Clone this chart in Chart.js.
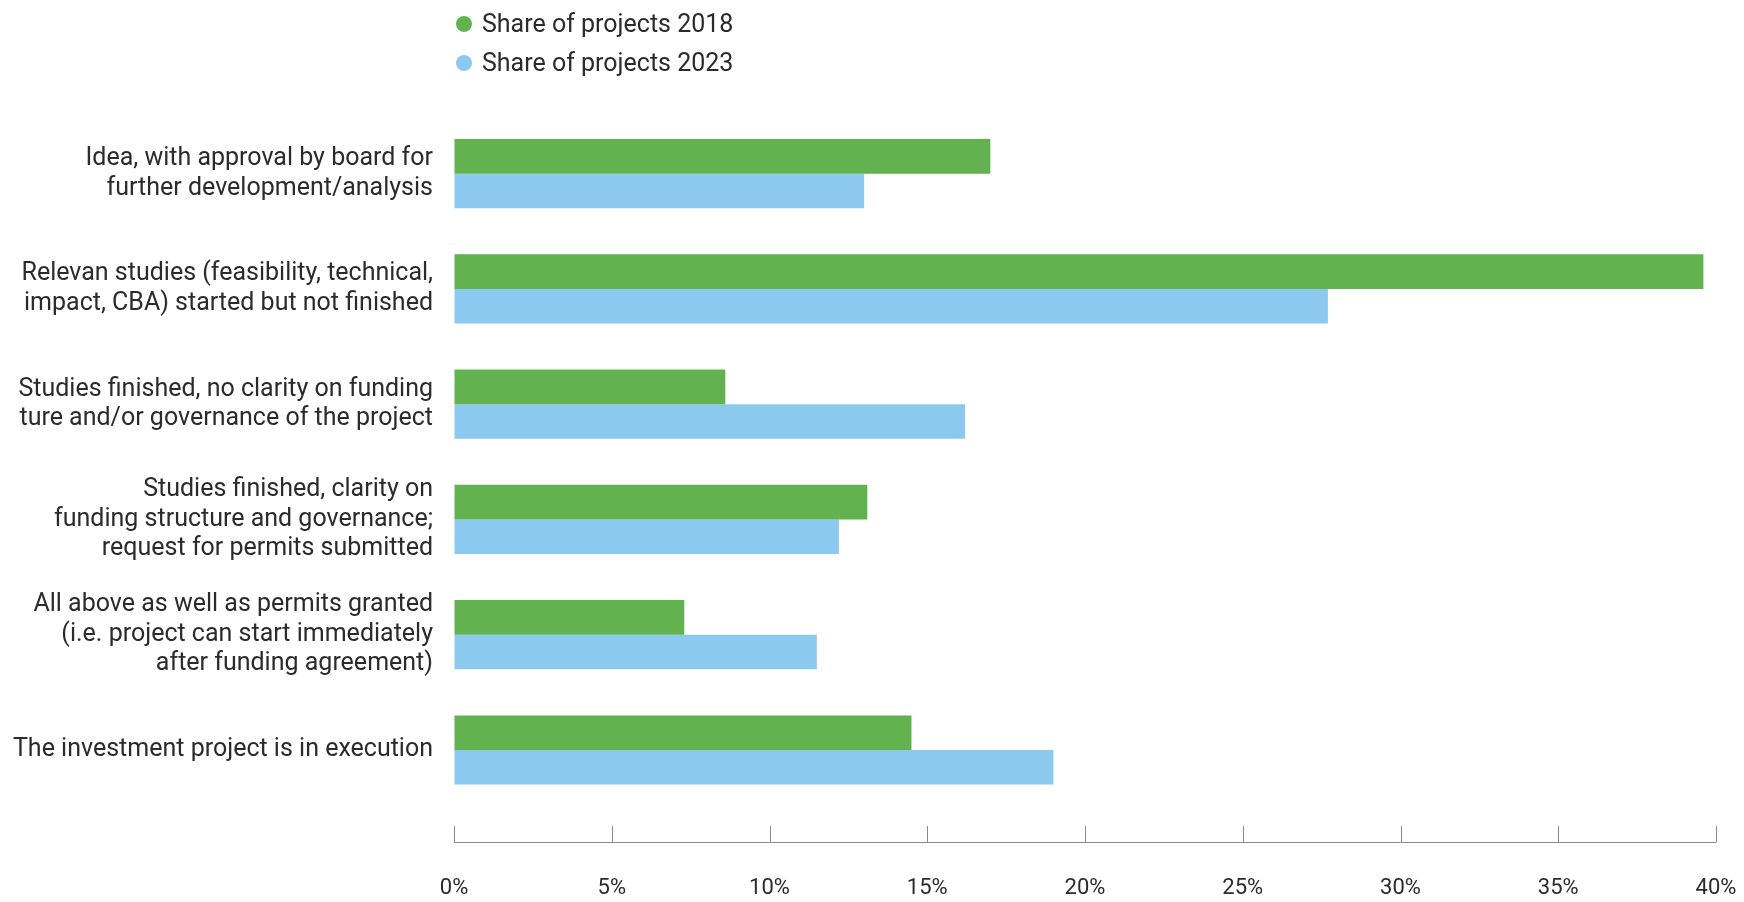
<!DOCTYPE html>
<html>
<head>
<meta charset="utf-8">
<script src="https://cdn.jsdelivr.net/npm/chart.js@4.4.1/dist/chart.umd.min.js"></script>
<style>
  body { margin: 0; background: #fff; overflow: hidden; }
  #wrap { position: relative; width: 1744px; height: 902px; }
  #grafica { display: block; }
  #legend { position: absolute; left: 456px; top: 4px; font-family: Roboto, sans-serif; font-size: 25px; color: #2b2b2b; }
  #legend div { height: 39px; display: flex; align-items: center; }
  #legend span.dot { display: inline-block; width: 16px; height: 16px; border-radius: 50%; margin-right: 10px; }
</style>
</head>
<body>
<div id="wrap">
  <canvas id="grafica" width="1744" height="902"></canvas>
  <div id="legend"></div>
</div>
<script>
var etapas = [
  ["Idea, with approval by board for", "further development/analysis"],
  ["Relevan studies (feasibility, technical,", "impact, CBA) started but not finished"],
  ["Studies finished, no clarity on funding", "ture and/or governance of the project"],
  ["Studies finished, clarity on", "funding structure and governance;", "request for permits submitted"],
  ["All above as well as permits granted", "(i.e. project can start immediately", "after funding agreement)"],
  "The investment project is in execution"
];
var share2018 = [17.0, 39.6, 8.6, 13.1, 7.3, 14.5];
var share2023 = [13.0, 27.7, 16.2, 12.2, 11.5, 19.0];
var serieNombres = ["Share of projects 2018", "Share of projects 2023"];
var colores = ["#62b34f", "#8cc9ef"];

// eje x: linea base y marcas hacia arriba, separadas del area de barras
var ejeX = {
  id: 'ejeX',
  afterDraw: function(chart) {
    var xs = chart.scales.x;
    var ctx = chart.ctx;
    var y0 = Math.round(xs.top) + 18;
    var y1 = Math.round(xs.top) + 34;
    ctx.save();
    ctx.strokeStyle = '#8a8a8a';
    ctx.lineWidth = 1;
    ctx.beginPath();
    ctx.moveTo(xs.left, y1 + 0.5);
    ctx.lineTo(xs.right, y1 + 0.5);
    xs.ticks.forEach(function(t) {
      var x = Math.round(xs.getPixelForValue(t.value)) + 0.5;
      ctx.moveTo(x, y0);
      ctx.lineTo(x, y1 + 0.5);
    });
    ctx.stroke();
    ctx.restore();
  }
};

var graph = document.getElementById("grafica");
var barChart = new Chart(graph, {
  type: 'bar',
  data: {
    labels: etapas,
    datasets: [{
      label: serieNombres[0],
      data: share2018,
      backgroundColor: colores[0]
    }, {
      label: serieNombres[1],
      data: share2023,
      backgroundColor: colores[1]
    }]
  },
  options: {
    indexAxis: 'y',
    responsive: false,
    animation: false,
    categoryPercentage: 0.6,
    barPercentage: 1.0,
    layout: { padding: { top: 116, right: 28, bottom: 0, left: 0 } },
    plugins: {
      legend: { display: false },
      tooltip: { enabled: false }
    },
    scales: {
      x: {
        min: 0,
        max: 40,
        grid: {
          display: true,
          drawOnChartArea: false,
          drawTicks: true,
          tickLength: 68,
          tickColor: 'rgba(0,0,0,0)'
        },
        border: { display: false },
        ticks: {
          stepSize: 5,
          padding: 0,
          color: '#2b2b2b',
          font: { family: 'Roboto', size: 22, lineHeight: 1.2 },
          callback: function(v) { return v + '%'; }
        }
      },
      y: {
        grid: { display: false, drawTicks: false },
        border: { display: false },
        afterFit: function(s) { s.width = 454; },
        ticks: {
          padding: 21,
          color: '#2b2b2b',
          font: { family: 'Roboto', size: 25, lineHeight: 1.18 }
        }
      }
    }
  },
  plugins: [ejeX]
});

// leyenda en dos filas
var leyenda = document.getElementById("legend");
barChart.data.datasets.forEach(function(ds) {
  var fila = document.createElement("div");
  var punto = document.createElement("span");
  punto.className = "dot";
  punto.style.background = ds.backgroundColor;
  fila.appendChild(punto);
  fila.appendChild(document.createTextNode(ds.label));
  leyenda.appendChild(fila);
});
</script>
</body>
</html>
